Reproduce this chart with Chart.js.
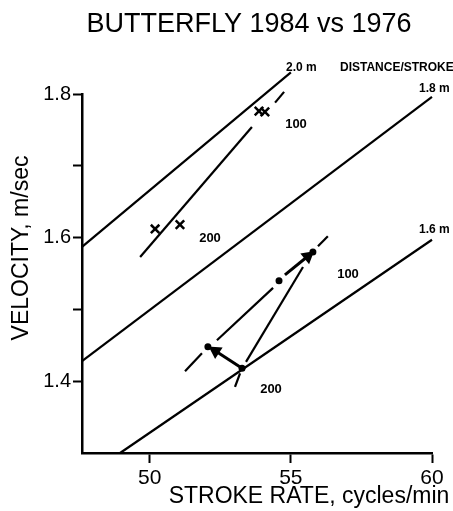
<!DOCTYPE html>
<html>
<head>
<meta charset="utf-8">
<script src="https://cdn.jsdelivr.net/npm/chart.js@4/dist/chart.umd.min.js"></script>
<style>
  html, body { margin: 0; padding: 0; background: #fff; }
  #wrap { width: 453px; height: 511px; }
</style>
</head>
<body>
<div id="wrap"><canvas id="c" width="453" height="511"></canvas></div>
<script>
// Axis ticks
const xTicks = [50, 55, 60];
const yTicks = [1.4, 1.5, 1.6, 1.7, 1.8];
const yTickLabels = { 1.4: '1.4', 1.6: '1.6', 1.8: '1.8' };

// Distance-per-stroke reference lines: [stroke rate, velocity]
const line20 = [[47.6, 1.587], [55.0, 1.830]];
const line18 = [[47.6, 1.428], [60.0, 1.796]];
const line16 = [[48.95, 1.300], [60.0, 1.597]];

// Crosses: 200 m pair and 100 m pair
const crossRate = [50.19, 51.07, 53.87, 54.08];
const crossVel  = [1.612, 1.618, 1.776, 1.775];
// Line through the crosses, broken around the 100 m pair
const crossTrendA = [[49.66, 1.573], [53.62, 1.754]];
const crossTrendB = [[54.44, 1.788], [54.76, 1.803]];

// Dots: 200 m pair and 100 m pair
const dotRate = [52.06, 53.27, 54.58, 55.78];
const dotVel  = [1.448, 1.418, 1.540, 1.580];
// Broken line through the dots
const dotTrendA = [[51.25, 1.414], [51.85, 1.439]];
const dotTrendB = [[52.38, 1.457], [54.37, 1.530]];
const dotTrendC = [[55.96, 1.588], [56.31, 1.602]];
const dotTrendD = [[53.02, 1.392], [53.20, 1.411]];
// Connector from the 200 m point toward the 100 m point
const dotLink = [[53.41, 1.427], [55.43, 1.559]];
// Arrows
const arrow200 = [[53.27, 1.418], [52.33, 1.442]];
const arrow100 = [[54.79, 1.548], [55.60, 1.574]];

const toXY = arr => arr.map(p => ({ x: p[0], y: p[1] }));
const zip = (xs, ys) => xs.map((x, i) => ({ x, y: ys[i] }));

function lineSet(points, width) {
  return {
    data: toXY(points), showLine: true, borderColor: '#000', borderWidth: width,
    pointRadius: 0, pointHoverRadius: 0, clip: false, order: 2
  };
}

function arrowSet(points) {
  return {
    data: toXY(points), showLine: true, borderColor: '#000', backgroundColor: '#000',
    borderWidth: 3, clip: false, order: 1,
    pointStyle: 'triangle',
    pointRadius: ctx => ctx.dataIndex === points.length - 1 ? 5 : 0,
    pointHoverRadius: 0,
    pointRotation: ctx => {
      const ch = ctx.chart;
      if (!ch.scales || !ch.scales.x) return 0;
      const sx = ch.scales.x, sy = ch.scales.y;
      const a = points[points.length - 2], b = points[points.length - 1];
      const dx = sx.getPixelForValue(b[0]) - sx.getPixelForValue(a[0]);
      const dy = sy.getPixelForValue(b[1]) - sy.getPixelForValue(a[1]);
      return Math.atan2(dx, -dy) * 180 / Math.PI;
    }
  };
}

const textPlugin = {
  id: 'chartText',
  afterDraw(chart) {
    const c = chart.ctx;
    c.save();
    c.fillStyle = '#000';
    c.textBaseline = 'middle';

    // Title
    c.font = '27px "Liberation Sans", Arial, sans-serif';
    c.textAlign = 'center';
    c.fillText('BUTTERFLY 1984 vs 1976', 249, 25);

    // Axis titles
    c.font = '23px "Liberation Sans", Arial, sans-serif';
    c.fillText('STROKE RATE, cycles/min', 309, 497);
    c.save();
    c.translate(22, 248);
    c.rotate(-Math.PI / 2);
    c.font = '23px "Liberation Sans", Arial, sans-serif';
    c.fillText('VELOCITY, m/sec', 0, 0);
    c.restore();

    // Reference line labels
    c.font = 'bold 12px "Liberation Sans", Arial, sans-serif';
    c.textAlign = 'left';
    c.fillText('2.0 m', 286, 68);
    c.fillText('DISTANCE/STROKE', 340, 68);
    c.fillText('1.8 m', 419, 89);
    c.fillText('1.6 m', 419, 230);

    // Race distance labels
    c.font = 'bold 13px "Liberation Sans", Arial, sans-serif';
    c.textAlign = 'center';
    c.fillText('100', 296, 124);
    c.fillText('200', 210, 238);
    c.fillText('100', 348, 274);
    c.fillText('200', 271, 389);
    c.restore();
  }
};

new Chart(document.getElementById('c'), {
  type: 'scatter',
  data: {
    datasets: [
      lineSet(line20, 2.2),
      lineSet(line18, 2.2),
      lineSet(line16, 2.2),
      lineSet(crossTrendA, 2.2),
      lineSet(crossTrendB, 2.2),
      lineSet(dotTrendA, 2.2),
      lineSet(dotTrendB, 2.2),
      lineSet(dotTrendC, 2.2),
      lineSet(dotTrendD, 2.2),
      lineSet(dotLink, 2.2),
      arrowSet(arrow200),
      arrowSet(arrow100),
      {
        label: '1984', data: zip(crossRate, crossVel), showLine: false,
        pointStyle: 'crossRot', pointRadius: 6, pointHoverRadius: 6,
        borderColor: '#000', borderWidth: 2.5, clip: false, order: 0
      },
      {
        label: '1976', data: zip(dotRate, dotVel), showLine: false,
        pointStyle: 'circle', pointRadius: 3.5, pointHoverRadius: 3.5,
        backgroundColor: '#000', borderColor: '#000', borderWidth: 0, clip: false, order: 0
      }
    ]
  },
  options: {
    responsive: false,
    animation: false,
    events: [],
    layout: { padding: { top: 94, left: 0, right: 21, bottom: 0 } },
    plugins: { legend: { display: false }, tooltip: { enabled: false }, title: { display: false } },
    scales: {
      x: {
        type: 'linear', min: 47.6, max: 60,
        afterBuildTicks: s => { s.ticks = xTicks.map(v => ({ value: v })); },
        afterFit: s => { s.height = 58; },
        border: { display: true, color: '#000', width: 2.5 },
        grid: { display: true, drawOnChartArea: false, drawTicks: true, tickLength: 10, tickWidth: 2, tickColor: '#000' },
        ticks: {
          color: '#000', padding: 3, maxRotation: 0,
          font: { family: '"Liberation Sans", Arial, sans-serif', size: 21 },
          callback: v => String(v)
        }
      },
      y: {
        type: 'linear', min: 1.3, max: 1.8,
        afterBuildTicks: s => { s.ticks = yTicks.map(v => ({ value: v })); },
        afterFit: s => { s.width = 82; },
        border: { display: true, color: '#000', width: 2.5 },
        grid: { display: true, drawOnChartArea: false, drawTicks: true, tickLength: 9, tickWidth: 2, tickColor: '#000' },
        ticks: {
          color: '#000', padding: 2,
          font: { family: '"Liberation Sans", Arial, sans-serif', size: 20 },
          callback: v => yTickLabels[v] || ''
        }
      }
    }
  },
  plugins: [textPlugin]
});
</script>
</body>
</html>
